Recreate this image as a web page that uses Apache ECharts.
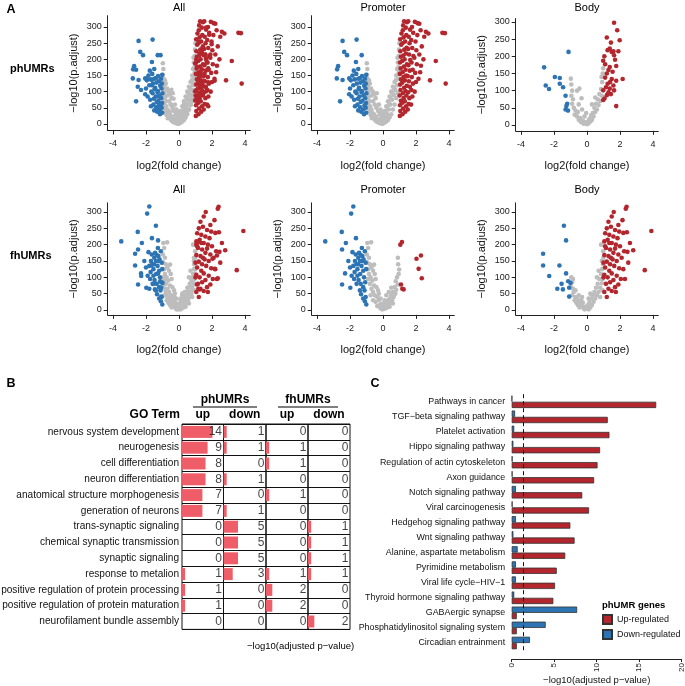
<!DOCTYPE html>
<html><head><meta charset="utf-8">
<script src="https://cdn.jsdelivr.net/npm/echarts@6/dist/echarts.min.js"></script>
<style>html,body{margin:0;padding:0;background:#fff}#c{width:685px;height:686px}</style>
</head><body><div id="c"></div>
<script>
// ---------- Panel A data (log2 fold change, -log10 p.adjust) ----------
const xTicks = [-4, -2, 0, 2, 4];
const yTicks = [0, 50, 100, 150, 200, 250, 300];

const phPromoterGrey = [[-0.98,188],[-0.95,170],[-0.97,152],[-0.93,140],[-0.99,128],[-0.9,120],[-0.96,110],[-0.88,100],[-0.94,92],[-0.85,85],[-0.92,75],[-0.8,70],[-0.9,60],[-0.78,55],[-0.86,48],[-0.7,45],[-0.82,38],[-0.65,35],[-0.75,28],[-0.6,25],[-0.68,18],[-0.5,15],[-0.55,30],[-0.45,10],[-0.4,22],[-0.35,6],[-0.3,14],[-0.25,4],[-0.2,9],[-0.15,2],[-0.1,6],[-0.05,1],[-0.72,110],[-0.62,100],[-0.55,92],[-0.45,80],[-0.38,95],[-0.6,70],[-0.5,60],[-0.4,50],[-0.3,40],[-0.25,60],[-0.2,30],[-0.15,45],[-0.1,20],[-0.05,35],[-0.8,125],[-0.85,135],[-0.7,88],[0,12],[0.05,25],[0.1,5],[0.1,40],[0.15,18],[0.2,8],[0.2,55],[0.25,30],[0.3,12],[0.3,70],[0.35,45],[0.4,20],[0.4,85],[0.45,60],[0.5,30],[0.5,100],[0.55,75],[0.6,45],[0.6,115],[0.65,90],[0.7,60],[0.7,130],[0.75,105],[0.8,80],[0.8,150],[0.85,120],[0.85,170],[0.9,95],[0.9,190],[0.92,140],[0.95,210],[0.96,160],[0.97,230],[0.98,120],[0.99,250],[0.88,205],[0.93,175],[0.78,135],[0.68,110],[0.58,95],[0.48,78],[0.38,62],[0.28,48],[0.18,35],[0.08,15],[0.02,2],[0.12,10],[0.22,20]];
const phPromoterBlue = [[-1.02,35],[-1.05,50],[-1.03,65],[-1.08,80],[-1.01,95],[-1.06,110],[-1.04,125],[-1.09,140],[-1.02,152],[-1.15,30],[-1.2,45],[-1.12,58],[-1.25,72],[-1.18,88],[-1.28,102],[-1.14,118],[-1.22,132],[-1.27,148],[-1.32,38],[-1.38,52],[-1.35,68],[-1.42,85],[-1.3,98],[-1.45,112],[-1.36,128],[-1.4,142],[-1.5,42],[-1.55,60],[-1.52,78],[-1.6,95],[-1.48,108],[-1.58,125],[-1.5,140],[-1.62,155],[-1.7,55],[-1.75,75],[-1.68,100],[-1.8,120],[-1.72,138],[-1.9,85],[-1.85,150],[-2.0,110],[-1.95,135],[-2.45,257],[-1.6,261],[-2.35,223],[-2.18,213],[-1.29,213],[-1.64,192],[-2.72,179],[-2.78,169],[-1.5,170],[-2.05,141],[-2.8,141],[-2.45,136],[-2.05,92],[-1.77,165],[-2.6,70]];
const phPromoterRed = [[1.02,25],[1.05,40],[1.03,58],[1.08,72],[1.01,88],[1.06,105],[1.04,122],[1.09,138],[1.02,155],[1.07,172],[1.03,190],[1.08,208],[1.05,225],[1.1,245],[1.04,262],[1.12,280],[1.18,30],[1.22,48],[1.15,65],[1.25,80],[1.2,95],[1.28,112],[1.17,128],[1.24,145],[1.19,160],[1.27,178],[1.16,195],[1.23,212],[1.29,230],[1.18,250],[1.25,268],[1.2,290],[1.28,318],[1.22,305],[1.35,38],[1.4,55],[1.32,70],[1.42,88],[1.36,102],[1.44,118],[1.33,135],[1.4,150],[1.37,168],[1.45,185],[1.31,200],[1.39,218],[1.43,236],[1.34,255],[1.41,275],[1.38,298],[1.45,315],[1.5,45],[1.55,62],[1.6,80],[1.52,98],[1.63,115],[1.57,132],[1.5,148],[1.62,165],[1.54,182],[1.65,198],[1.58,215],[1.52,232],[1.61,250],[1.56,270],[1.64,292],[1.53,318],[1.7,60],[1.78,85],[1.72,105],[1.82,125],[1.75,145],[1.8,168],[1.73,190],[1.84,210],[1.77,235],[1.71,260],[1.83,282],[1.76,300],[1.92,100],[2.0,130],[1.95,158],[2.05,185],[1.9,205],[2.02,228],[1.97,255],[2.08,275],[1.93,316],[2.1,312],[2.25,160],[2.3,180],[2.2,215],[2.35,240],[2.28,290],[2.45,200],[2.5,270],[2.6,285],[2.75,280],[2.85,135],[3.2,195],[3.6,282],[3.75,281],[3.8,125],[2.2,310],[2.15,140]];

const phBodyGrey = [[-0.98,135],[-0.95,118],[-0.9,100],[-0.95,85],[-0.85,75],[-0.9,62],[-0.8,50],[-0.7,42],[-0.75,30],[-0.6,25],[-0.55,38],[-0.5,15],[-0.4,20],[-0.35,8],[-0.25,12],[-0.2,4],[-0.1,8],[0,2],[0.05,10],[-0.6,100],[-0.46,106],[-0.33,78],[-0.5,60],[-0.3,45],[-0.15,25],[0.1,5],[0.15,18],[0.2,10],[0.25,28],[0.3,15],[0.35,35],[0.4,25],[0.45,50],[0.5,38],[0.55,62],[0.6,45],[0.65,75],[0.7,58],[0.75,90],[0.8,70],[0.85,105],[0.9,85],[0.92,125],[0.95,150],[0.98,165],[0.88,140],[0.3,60],[0.5,80],[-0.05,35]];
const phBodyBlue = [[-2.6,168],[-2.5,115],[-2.3,105],[-1.95,140],[-1.65,137],[-1.65,120],[-1.45,110],[-1.3,85],[-1.2,62],[-1.25,55],[-1.3,45],[-1.15,42],[-1.12,213]];
const phBodyRed = [[1.64,298],[1.83,276],[1.2,255],[1.98,247],[1.38,223],[1.25,218],[1.5,213],[1.6,215],[1.64,203],[0.98,187],[1.1,177],[1.77,172],[1.38,169],[1.3,160],[1.55,155],[1.2,150],[1.1,138],[1.5,134],[2.16,134],[1.77,129],[1.4,125],[1.25,120],[1.38,106],[1.64,101],[0.98,101],[1.15,110],[1.2,87],[1.06,77],[0.98,73],[1.77,55],[1.45,90],[1.3,95],[1.6,115],[1.05,200],[1.45,240],[1.7,190],[1.9,215]];

const fhPromoterGrey = [[-0.95,205],[-0.72,207],[-0.9,190],[-0.98,170],[-0.85,160],[-0.95,145],[-0.8,140],[-0.9,125],[-0.7,130],[-0.54,139],[-0.85,110],[-0.6,120],[-0.75,100],[-0.5,110],[-0.9,95],[-0.65,90],[-0.8,80],[-0.45,95],[-0.55,75],[-0.7,65],[-0.4,70],[-0.6,55],[-0.3,60],[-0.5,45],[-0.75,45],[-0.35,40],[-0.6,30],[-0.25,30],[-0.45,25],[-0.2,15],[-0.35,12],[-0.15,5],[-0.05,2],[-0.1,18],[0,8],[-0.25,50],[-0.15,35],[0.05,3],[0.1,12],[0.15,5],[0.2,20],[0.25,8],[0.3,28],[0.35,15],[0.4,35],[0.45,22],[0.5,45],[0.55,30],[0.6,55],[0.65,40],[0.7,70],[0.75,50],[0.77,88],[0.8,62],[0.85,100],[0.9,78],[0.98,124],[0.92,140],[0.9,160],[0.95,110],[0.1,30],[0.2,45],[0.35,55],[0.5,68],[0.4,10],[0.6,20],[0.02,20]];
const fhPromoterBlue = [[-1.8,317],[-1.93,295],[-3.5,210],[-2.5,239],[-2.25,205],[-1.64,220],[-2.48,185],[-1.85,177],[-2.1,150],[-2.48,78],[-1.98,68],[-1.72,116],[-1.33,48],[-1.1,27],[-1.01,17],[-2.3,112],[-2.0,130],[-1.9,105],[-1.75,95],[-1.62,140],[-1.55,125],[-1.5,160],[-1.45,175],[-1.4,150],[-1.38,110],[-1.3,135],[-1.25,165],[-1.2,120],[-1.15,100],[-1.1,180],[-1.05,145],[-1.02,125],[-1.08,85],[-1.2,70],[-1.35,80],[-1.48,92],[-1.6,80],[-1.7,150],[-1.28,190],[-1.12,60],[-1.4,60],[-1.55,105],[-1.65,170],[-1.8,135],[-1.05,40],[-1.2,35],[-1.25,150],[-1.5,140],[-1.35,168],[-1.18,155]];
const fhPromoterRed = [[1.05,200],[1.15,208],[2.03,157],[2.3,167],[2.16,126],[2.35,97],[1.09,78],[1.17,65],[1.25,63]];

const fhBodyGrey = [[-0.95,100],[-0.9,85],[-0.98,72],[-0.85,65],[-0.8,55],[-0.9,45],[-0.7,40],[-0.75,30],[-0.6,35],[-0.65,22],[-0.5,28],[-0.55,15],[-0.4,20],[-0.45,8],[-0.3,12],[-0.35,30],[-0.2,5],[-0.25,22],[-0.1,10],[-0.15,2],[0,4],[0.05,15],[0.1,2],[0.15,25],[0.2,8],[0.25,35],[0.3,15],[0.35,45],[0.4,25],[0.45,55],[0.5,35],[0.55,68],[0.6,45],[0.65,80],[0.7,55],[0.75,95],[0.8,68],[0.85,110],[0.9,82],[0.92,125],[0.95,95],[0.97,140],[0.99,160],[0.98,180],[0.9,150],[0.85,200],[-0.5,45],[-0.3,40],[0.2,50],[0.6,100],[-0.7,60],[-0.85,95],[0.1,35],[0.7,120],[0.95,60],[0.8,40]];
const fhBodyBlue = [[-2.66,172],[-2.66,136],[-2.29,104],[-1.4,258],[-1.27,213],[-1.67,136],[-1.27,112],[-1.54,80],[-1.8,65],[-1.46,63],[-1.14,88],[-1.0,83],[-1.08,68],[-1.08,41]];
const fhBodyRed = [[2.4,316],[2.35,310],[1.62,300],[1.5,286],[1.3,270],[1.45,255],[1.2,250],[1.7,245],[1.95,240],[2.2,236],[2.42,238],[3.9,242],[1.1,235],[1.35,230],[1.6,225],[1.85,220],[1.25,215],[1.05,210],[1.5,205],[1.75,200],[2.0,195],[1.15,190],[1.4,185],[2.8,183],[2.25,180],[2.45,178],[1.6,175],[1.9,170],[1.05,168],[1.3,165],[2.1,160],[1.55,155],[1.8,150],[1.2,148],[2.5,145],[1.0,145],[1.4,140],[1.65,135],[1.1,130],[1.95,128],[2.2,125],[3.5,122],[1.35,120],[1.5,112],[1.8,105],[1.05,108],[1.25,100],[2.05,95],[2.3,95],[1.6,92],[1.4,85],[1.15,80],[1.9,78],[1.7,70],[1.3,65],[1.5,58],[1.75,55],[1.05,55],[1.2,40],[1.1,195],[1.0,100],[1.45,160],[2.6,205],[1.7,188],[1.35,205],[1.9,260],[2.15,275]];

// ---------- Panel B data ----------
const goTerms = ['nervous system development','neurogenesis','cell differentiation','neuron differentiation','anatomical structure morphogenesis','generation of neurons','trans-synaptic signaling','chemical synaptic transmission','synaptic signaling','response to metalion','positive regulation of protein processing','positive regulation of protein maturation','neurofilament bundle assembly'];
const phUpCount   = [14,9,8,8,7,7,0,0,0,1,1,1,0];
const phDownCount = [1,1,0,1,0,1,5,5,5,3,0,0,0];
const fhUpCount   = [0,1,1,0,1,0,0,0,0,1,2,2,0];
const fhDownCount = [0,0,0,0,0,0,1,1,1,1,0,0,2];
// bar lengths: -log10(adjusted p-value)
const phUpBar   = [8.8,7.4,6.8,6.8,5.9,5.9,0,0,0,0.9,0.9,0.9,0];
const phDownBar = [0.9,0.9,0,0.9,0,0.9,4.1,4.1,4.1,2.6,0,0,0];
const fhUpBar   = [0,0.9,0.9,0,0.9,0,0,0,0,0.9,1.8,1.8,0];
const fhDownBar = [0,0,0,0,0,0,0.9,0.9,0.9,0.9,0,0,1.8];

// ---------- Panel C data ----------
const pathways = ['Pathways in cancer','TGF\u2212beta signaling pathway','Platelet activation','Hippo signaling pathway','Regulation of actin cytoskeleton','Axon guidance','Notch signaling pathway','Viral carcinogenesis','Hedgehog signaling pathway','Wnt signaling pathway','Alanine, aspartate metabolism','Pyrimidine metabolism','Viral life cycle\u2212HIV\u22121','Thyroid hormone signaling pathway','GABAergic synapse','Phosphatidylinositol signaling system','Circadian entrainment'];
const upReg   = [17.0,11.3,11.5,10.4,10.1,9.7,8.3,9.1,6.9,7.4,6.3,5.3,5.1,4.9,0.6,0.6,0.6];
const downReg = [0.05,0.4,0.3,0.2,0.1,0.1,0.5,0.1,0.5,0.2,0.7,0.5,0.5,0.3,7.7,4.0,2.15];

// ---------- build ----------
const FONT = '"Liberation Sans", Arial, Helvetica, sans-serif';
const RED = '#B3262D', BLUE = '#2D74B4', GREY = '#BDBDBD', BARPINK = '#EF5E68';

const volcano = [
  {title:'All',      grey: phPromoterGrey.concat(phBodyGrey), blue: phPromoterBlue.concat(phBodyBlue), red: phPromoterRed.concat(phBodyRed), row:0, col:0},
  {title:'Promoter', grey: phPromoterGrey, blue: phPromoterBlue, red: phPromoterRed, row:0, col:1},
  {title:'Body',     grey: phBodyGrey, blue: phBodyBlue, red: phBodyRed, row:0, col:2, body:true},
  {title:'All',      grey: fhPromoterGrey.concat(fhBodyGrey), blue: fhPromoterBlue.concat(fhBodyBlue), red: fhPromoterRed.concat(fhBodyRed), row:1, col:0},
  {title:'Promoter', grey: fhPromoterGrey, blue: fhPromoterBlue, red: fhPromoterRed, row:1, col:1},
  {title:'Body',     grey: fhBodyGrey, blue: fhBodyBlue, red: fhBodyRed, row:1, col:2}
];

const grid = [], xAxis = [], yAxis = [], series = [], graphic = [];
const PPX = 16.5;
function txt(x, y, text, size, opts) {
  opts = opts || {};
  graphic.push({type:'text', x:x, y:y, silent:true, style:{text:text, fill:'#000', fontFamily:FONT, fontSize:size,
    fontWeight: opts.bold ? 'bold' : 'normal', align: opts.align || 'center', verticalAlign: 'middle'}});
}

volcano.forEach((p, i) => {
  const X = 113 + 204 * p.col;
  let yz, ppu, ymin, ymax, titleY;
  if (p.row === 0) {
    if (p.body) { yz = 125; ppu = 0.3433; ymin = -17; ymax = 310; }
    else { yz = 124; ppu = 0.3233; ymin = -20; ymax = 335; }
    titleY = 8;
  } else { yz = 310; ppu = 0.3267; ymin = -15; ymax = 328; titleY = 190; }
  grid.push({left: X - 0.32 * PPX, width: 8.64 * PPX, top: yz - ymax * ppu, height: (ymax - ymin) * ppu, outerBoundsMode:'none'});
  const axLine = {show:true, onZero:false, lineStyle:{color:'#222', width:1}};
  xAxis.push({gridIndex:i, type:'value', min:-4.32, max:4.32, axisLine:axLine, splitLine:{show:false},
    axisTick:{show:true, length:4, customValues:xTicks, lineStyle:{color:'#222'}},
    axisLabel:{customValues:xTicks, fontSize:9, color:'#222', margin:9, fontFamily:FONT},
    name:'log2(fold change)', nameLocation:'middle', nameGap:30, nameTextStyle:{fontSize:11, color:'#111', fontFamily:FONT}});
  yAxis.push({gridIndex:i, type:'value', min:ymin, max:ymax, axisLine:axLine, splitLine:{show:false},
    axisTick:{show:true, length:4, customValues:yTicks, lineStyle:{color:'#222'}},
    axisLabel:{customValues:yTicks, fontSize:9, color:'#222', margin:6, fontFamily:FONT},
    name:'\u2212log10(p.adjust)', nameLocation:'middle', nameGap:28, nameTextStyle:{fontSize:11, color:'#111', fontFamily:FONT}});
  [[p.grey, GREY], [p.blue, BLUE], [p.red, RED]].forEach(([d, c]) => {
    series.push({type:'scatter', xAxisIndex:i, yAxisIndex:i, data:d, symbol:'circle', symbolSize:4.6,
      itemStyle:{color:c, opacity:1}, silent:true});
  });
  txt(X + 4 * PPX, titleY, p.title, 11);
});

// Panel B table
const colX = [182, 223.5, 266, 308, 350];
const tableTop = 424, rowH = 15.8;
const cols = [[phUpBar, phUpCount], [phDownBar, phDownCount], [fhUpBar, fhUpCount], [fhDownBar, fhDownCount]];
cols.forEach(([bars, counts], k) => {
  const gi = grid.length;
  grid.push({left: colX[k], width: colX[k+1] - colX[k], top: tableTop, height: rowH * goTerms.length, outerBoundsMode:'none',
    show:true, borderColor:'#111', borderWidth:1, backgroundColor:'transparent'});
  xAxis.push({gridIndex:gi, type:'value', min:0, max:12, show:false});
  yAxis.push({gridIndex:gi, type:'category', data:goTerms, inverse:true,
    axisLine:{show:false}, axisTick:{show:false},
    splitLine:{show:true, lineStyle:{color:'#111', width:1}},
    axisLabel:{show: k === 0, fontSize:10.1, color:'#111', margin:3, fontFamily:FONT}});
  series.push({type:'bar', xAxisIndex:gi, yAxisIndex:gi, data:bars, barWidth:12, itemStyle:{color:BARPINK}, silent:true});
  series.push({type:'scatter', xAxisIndex:gi, yAxisIndex:gi, symbolSize:0, silent:true,
    data: counts.map((c, r) => [12, r, c]),
    label:{show:true, position:'left', distance:1.5, formatter: q => String(q.value[2]), fontSize:12, color:'#111', fontFamily:FONT}});
});

// Panel C
const gC = grid.length;
const cTop = 394.2, cRow = 15.08;
grid.push({left:511.7, width:170, top:cTop, height:cRow * pathways.length, outerBoundsMode:'none'});
xAxis.push({gridIndex:gC, type:'value', min:0, max:20, interval:5, offset:8.5,
  axisLine:{show:true, onZero:false, lineStyle:{color:'#222'}}, splitLine:{show:false},
  axisTick:{show:true, length:3, lineStyle:{color:'#222'}},
  axisLabel:{rotate:90, fontSize:8, color:'#222', margin:4, fontFamily:FONT},
  name:'\u2212log10(adjusted p\u2212value)', nameLocation:'middle', nameGap:16, nameTextStyle:{fontSize:9.5, color:'#111', fontFamily:FONT}});
yAxis.push({gridIndex:gC, type:'category', data:pathways, inverse:true,
  axisLine:{show:false}, axisTick:{show:false}, splitLine:{show:false},
  axisLabel:{fontSize:8.9, color:'#111', margin:6.5, fontFamily:FONT}});
series.push({type:'bar', name:'Down-regulated', xAxisIndex:gC, yAxisIndex:gC, data:downReg, barWidth:6.3, barGap:'0%',
  itemStyle:{color:BLUE, borderColor:'#333', borderWidth:0.8}, silent:true,
  markLine:{symbol:'none', silent:true, label:{show:false}, data:[{xAxis:1.3}], lineStyle:{type:[4,3], color:'#111', width:1}, animation:false}});
series.push({type:'bar', name:'Up-regulated', xAxisIndex:gC, yAxisIndex:gC, data:upReg, barWidth:6.3, barGap:'0%',
  itemStyle:{color:RED, borderColor:'#333', borderWidth:0.8}, silent:true});

// Static texts
txt(11, 10, 'A', 12.5, {bold:true});
txt(10, 69, 'phUMRs', 11, {bold:true, align:'left'});
txt(10, 256, 'fhUMRs', 11, {bold:true, align:'left'});
txt(11, 384, 'B', 12.5, {bold:true});
txt(375, 384, 'C', 12.5, {bold:true});
txt(225, 400, 'phUMRs', 12, {bold:true});
txt(308, 400, 'fhUMRs', 12, {bold:true});
[[193,257],[278,338]].forEach(([a,b]) => graphic.push({type:'line', silent:true, shape:{x1:a, y1:407, x2:b, y2:407}, style:{stroke:'#000', lineWidth:1.2}}));
txt(180, 415, 'GO Term', 12, {bold:true, align:'right'});
['up','down','up','down'].forEach((t, k) => txt((colX[k] + colX[k+1]) / 2, 415, t, 12, {bold:true}));
txt(247, 646, '\u2212log10(adjusted p\u2212value)', 9.5, {align:'left'});
txt(602, 605, 'phUMR genes', 9.5, {bold:true, align:'left'});

const option = {
  animation:false,
  backgroundColor:'#fff',
  textStyle:{fontFamily:FONT},
  grid, xAxis, yAxis, series, graphic,
  legend:{data:['Up-regulated','Down-regulated'], orient:'vertical', left:602, top:614, padding:0, itemWidth:9, itemHeight:9, itemGap:4,
    icon:'rect', selectedMode:false, textStyle:{fontSize:9, color:'#111', fontFamily:FONT}}
};
const chart = echarts.init(document.getElementById('c'), null, {renderer:'canvas'});
chart.setOption(option);
</script></body></html>
